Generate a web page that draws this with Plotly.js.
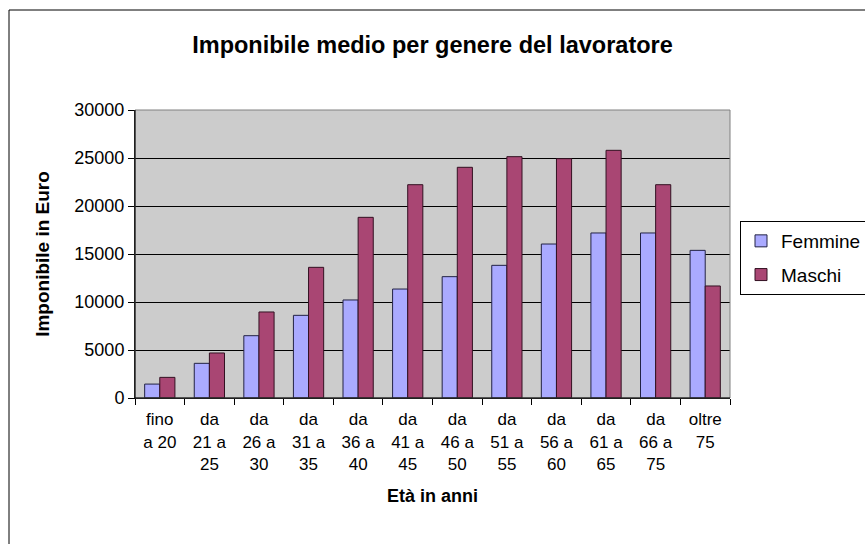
<!DOCTYPE html>
<html>
<head>
<meta charset="utf-8">
<script src="https://cdn.plot.ly/plotly-3.0.1.min.js"></script>
<style>html,body{margin:0;padding:0;background:#fff;}#chart{width:865px;height:544px;}</style>
</head>
<body>
<div id="chart"></div>
<script>
const categories = ["fino<br>a 20","da<br>21 a<br>25","da<br>26 a<br>30","da<br>31 a<br>35","da<br>36 a<br>40","da<br>41 a<br>45","da<br>46 a<br>50","da<br>51 a<br>55","da<br>56 a<br>60","da<br>61 a<br>65","da<br>66 a<br>75","oltre<br>75"];
const femmine = [1450, 3610, 6490, 8610, 10210, 11350, 12640, 13820, 16040, 17190, 17190, 15380];
const maschi  = [2150, 4690, 8960, 13610, 18820, 22220, 24030, 25140, 24930, 25800, 22220, 11670];
const seriesNames = ["Femmine", "Maschi"];
const yTicks = [0, 5000, 10000, 15000, 20000, 25000, 30000];

const FONT = "Liberation Sans, Arial, sans-serif";
const traces = [
  {type:"bar", name:seriesNames[0], legendgroup:"f", x:categories, y:femmine,
   marker:{color:"#aaaaff", line:{color:"#222244", width:1}}, hoverinfo:"y"},
  {type:"bar", name:seriesNames[1], legendgroup:"m", x:categories, y:maschi,
   marker:{color:"#a94673", line:{color:"#331122", width:1}}, hoverinfo:"y"}
];
const layout = {
  width:865, height:544,
  margin:{l:135, r:135, t:110, b:146},
  paper_bgcolor:"#ffffff",
  plot_bgcolor:"#cccccc",
  font:{family:FONT, size:18, color:"#000"},
  title:{text:"<b>Imponibile medio per genere del lavoratore</b>", font:{family:FONT, size:23.5, color:"#000"},
         x:0.5, xref:"paper", xanchor:"center", y:1-45/544, yref:"container", yanchor:"middle"},
  barmode:"group", bargap:0.39, bargroupgap:0,
  xaxis:{type:"category", showline:true, linecolor:"#000", linewidth:1, ticks:"outside", tickson:"boundaries",
         ticklen:6, tickcolor:"#000", showgrid:false, tickangle:0, automargin:false, ticklabelstandoff:6,
         tickfont:{family:FONT, size:17, color:"#000"},
         title:{text:"<b>Età in anni</b>", font:{family:FONT, size:18, color:"#000"}, standoff:16}},
  yaxis:{range:[0,30000], tickvals:yTicks, ticktext:yTicks.map(String), showline:true, linecolor:"#000", linewidth:1,
         ticks:"outside", ticklen:6, tickcolor:"#000", showgrid:true, gridcolor:"#000", gridwidth:1,
         zeroline:false, automargin:false, tickfont:{family:FONT, size:18, color:"#000"},
         title:{text:"<b>Imponibile in Euro</b>", font:{family:FONT, size:19, color:"#000"}, standoff:19}},
  legend:{xref:"container", yref:"container", x:740/865, y:1-221/544, xanchor:"left", yanchor:"top",
          bgcolor:"#fff", bordercolor:"#000", borderwidth:1, itemwidth:30,
          font:{family:FONT, size:19, color:"#000"}, tracegroupgap:6},
  shapes:[
    {type:"rect", xref:"paper", yref:"paper", x0:0, x1:1, y0:0, y1:1, line:{color:"#808080", width:1}, fillcolor:"rgba(0,0,0,0)", layer:"above"},
    {type:"line", xref:"paper", yref:"paper", x0:0, x1:1, y0:0, y1:0, line:{color:"#000", width:1}, layer:"above"},
    {type:"line", xref:"paper", yref:"paper", x0:0, x1:0, y0:0, y1:1, line:{color:"#000", width:1}, layer:"above"},
    {type:"rect", xref:"paper", yref:"paper", x0:(9-135)/595, x1:1.3, y0:-0.6, y1:(398-10)/288, line:{color:"#000", width:1}, fillcolor:"rgba(0,0,0,0)", layer:"below"}
  ],
  showlegend:true
};
Plotly.newPlot("chart", traces, layout, {displayModeBar:false, staticPlot:true});
</script>
</body>
</html>
